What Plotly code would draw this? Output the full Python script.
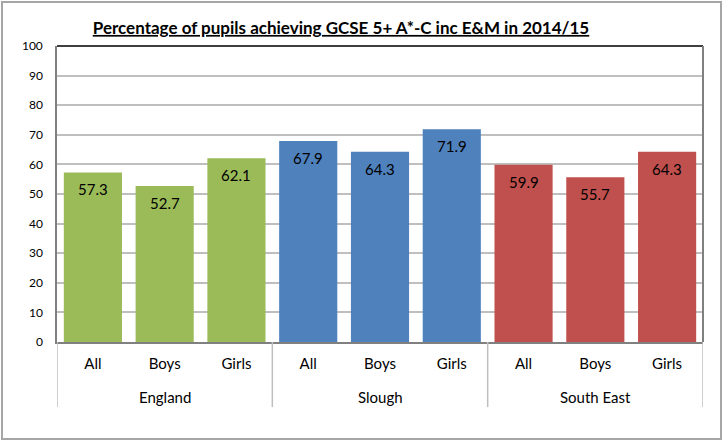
import plotly.graph_objects as go

# data
regions = ["England", "Slough", "South East"]
groups = ["All", "Boys", "Girls"]
values = [57.3, 52.7, 62.1, 67.9, 64.3, 71.9, 59.9, 55.7, 64.3]
region_colors = ["#9BBB59", "#4F81BD", "#C0504D"]

keys = [f"{r}|{g}" for r in regions for g in groups]
colors = [c for c in region_colors for _ in groups]
tick_text = groups * len(regions)

fig = go.Figure()

fig.add_trace(go.Bar(
    x=keys,
    y=values,
    marker=dict(color=colors, line=dict(width=0)),
    hoverinfo="none",
    showlegend=False,
))

# value labels just inside the top of each bar
for k, v in zip(keys, values):
    fig.add_annotation(x=k, y=v, text=f"{v:.1f}", showarrow=False,
                       yanchor="middle", yshift=-17,
                       font=dict(size=15, color="black", family="Lato"))

W, H = 723, 441
L, R, T, B = 57, 20, 46, 99
pw, ph = W - L - R, H - T - B

def px_x(p):
    return (p - L) / pw

def px_y(p):
    return (H - B - p) / ph

n = len(groups)
# region labels and dividers under the category labels
for i, r in enumerate(regions):
    fig.add_annotation(x=keys[i * n + 1], y=px_y(397), yref="paper", text=r,
                       showarrow=False, yanchor="middle",
                       font=dict(size=15, color="black", family="Lato"))
for i in range(len(regions) + 1):
    fig.add_shape(type="line", xref="x", yref="paper",
                  x0=i * n - 0.5, x1=i * n - 0.5, y0=px_y(407), y1=0,
                  line=dict(color="#BFBFBF", width=1.5))

# outer chart border
fig.add_shape(type="rect", xref="paper", yref="paper",
              x0=px_x(2), x1=px_x(721), y0=px_y(439), y1=px_y(2),
              line=dict(color="#A6A6A6", width=2), fillcolor="rgba(0,0,0,0)")
# plot area top / right edges
fig.add_shape(type="line", xref="paper", yref="paper", x0=0, x1=1, y0=1, y1=1,
              line=dict(color="black", width=1.5))
fig.add_shape(type="line", xref="paper", yref="paper", x0=1, x1=1, y0=0, y1=1,
              line=dict(color="#808080", width=2))

fig.update_layout(
    width=W, height=H,
    margin=dict(l=L, r=R, t=T, b=B),
    paper_bgcolor="white",
    plot_bgcolor="white",
    bargap=0.19,
    title=dict(
        text="<b><u>Percentage of pupils achieving GCSE 5+ A*-C inc E&M in 2014/15</u></b>",
        x=341 / W, xanchor="center", y=1 - 28 / H, yanchor="middle",
        font=dict(size=17, color="black", family="Lato"),
    ),
    font=dict(family="Lato", color="black"),
    xaxis=dict(
        automargin=False,
        range=[-0.5, len(keys) - 0.5],
        tickmode="array", tickvals=keys, ticktext=tick_text,
        showline=True, linecolor="#808080", linewidth=1.5,
        showgrid=False, ticks="",
        ticklabelstandoff=7,
        tickfont=dict(size=15, color="black"),
    ),
    yaxis=dict(
        automargin=False,
        range=[0, 100], dtick=10,
        showline=True, linecolor="#808080", linewidth=1.5,
        showgrid=True, gridcolor="#BFBFBF", gridwidth=1.5,
        zeroline=False, ticks="",
        ticklabelstandoff=10,
        tickfont=dict(size=12, color="black"),
    ),
)

fig.write_html("out.html", config={"displayModeBar": False},
               post_script="document.body.style.margin='0';")
